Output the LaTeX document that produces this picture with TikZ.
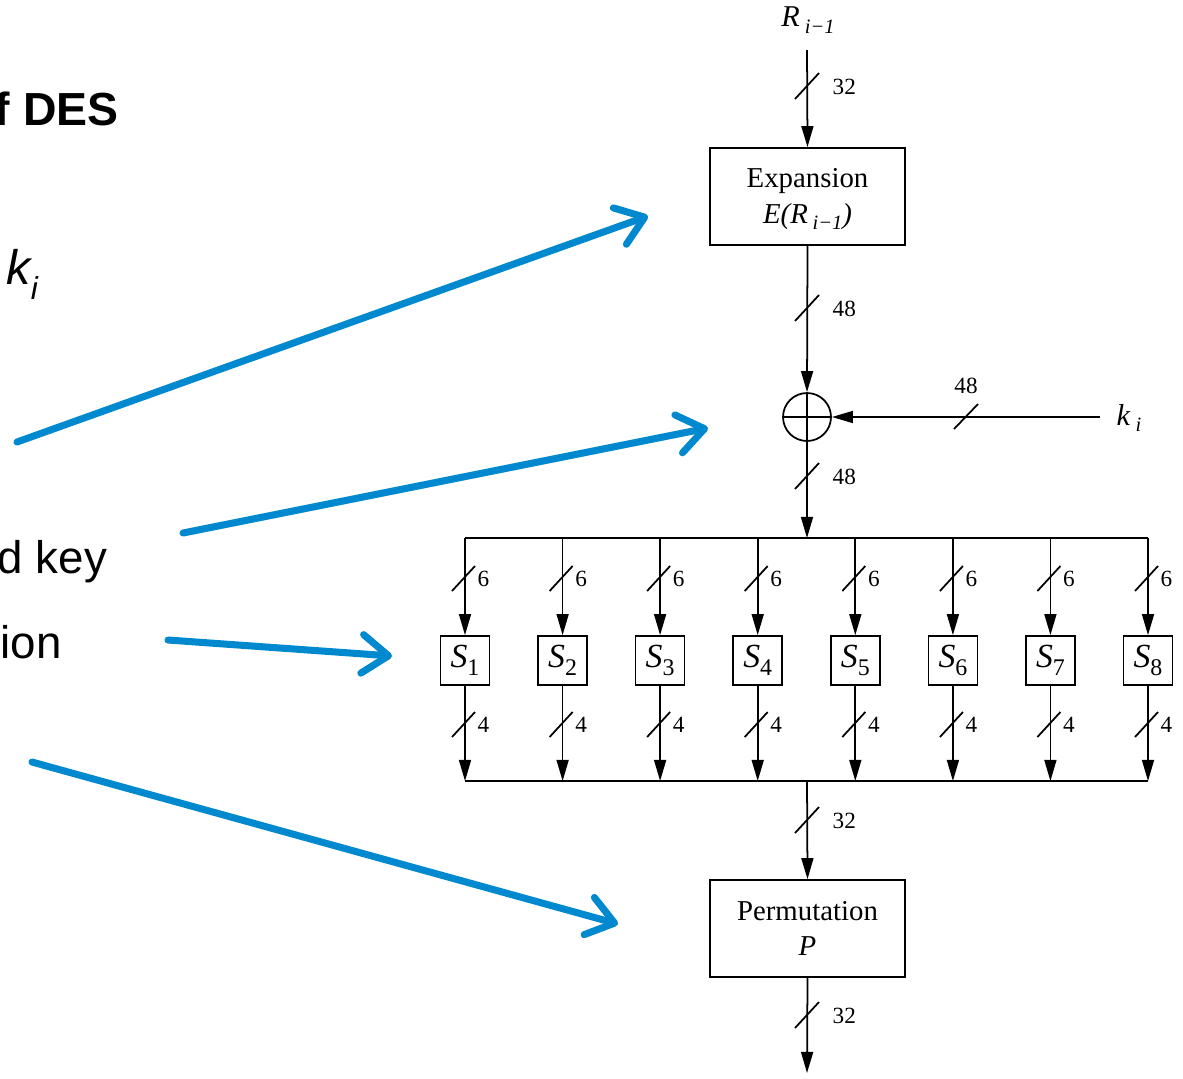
\documentclass[tikz,border=0pt]{standalone}
\usepackage{fontspec}
\setmainfont{Liberation Serif}
\newfontfamily\arialfont{Liberation Sans}
\usetikzlibrary{arrows.meta}
\definecolor{desblue}{RGB}{0,137,207}
\newcommand{\subtxt}[1]{\raisebox{-0.45ex}{\fontsize{5.8}{6}\selectfont\itshape #1}}
\begin{document}
\begin{tikzpicture}[x=0.1mm,y=-0.1mm,
  wire/.style={line width=0.5pt,draw=black},
  flow/.style={wire,-{Triangle[length=6pt,width=3.4pt]}},
  bigbox/.style={draw,line width=0.5pt,minimum width=19.5mm,minimum height=9.7mm,inner sep=0pt,align=center,font=\fontsize{8.2}{10}\selectfont},
  sbox/.style={draw,line width=0.5pt,minimum width=4.9mm,minimum height=4.9mm,inner sep=0pt,font=\fontsize{9.6}{9}\selectfont},
  num/.style={font=\fontsize{6.6}{7}\selectfont,inner sep=0pt,anchor=west},
  lbl/.style={font=\fontsize{8.6}{9}\selectfont,inner sep=0pt},
  pointer/.style={draw=desblue,line width=2pt,line cap=round,-{Straight Barb[length=7.5pt,width=11pt,line cap=round,line join=round]}},
  slide/.style={font=\arialfont\fontsize{13}{15}\selectfont,inner sep=0pt,anchor=base west},
  xorc/.style={draw,circle,line width=0.5pt,minimum size=4.8mm,inner sep=0pt},
]
\useasboundingbox (0,0) rectangle (1183,1078);
\clip (0,0) rectangle (1183,1078);

% slide texts (cut at the left edge)
\node[slide,font=\arialfont\bfseries\fontsize{13.2}{15}\selectfont] (title) at (-6,125) {f DES};
\node[slide,font=\arialfont\itshape\fontsize{13.8}{15}\selectfont] (kitxt) at (6,284) {k\raisebox{-4.3pt}{\fontsize{9}{9}\selectfont i}};
\node[slide] (keytxt) at (-3,573) {d key};
\node[slide] (iontxt) at (0,658) {ion};

% diagram nodes
\node[lbl] (rin) at (808,20) {\textit{R}\,\subtxt{i−1}};
\node[bigbox] (exp) at (807.5,196.5) {};
\node[font=\fontsize{8.2}{10}\selectfont,align=center,inner sep=0pt] (exptxt) at (807.5,199) {Expansion\\\textit{E(R}\,\subtxt{i−1}\textit{)}};
\node[xorc] (xor) at (807,417) {};
\node[lbl,anchor=west] (ki) at (1116,418) {\textit{k}\,\subtxt{i}};
\node[bigbox] (perm) at (807.5,928.5) {Permutation\\\textit{P}};

\coordinate (rtop) at (807,50);
\coordinate (kstart) at (1100,417);
\coordinate (btop) at (807,538);
\coordinate (bbot) at (807,781);
\coordinate (out) at (807,1073);

% top path
\draw[flow] (rtop) -- (exp.north);
\draw[flow] (exp.south) -- (xor.north);
\draw[wire] (xor.north) -- (xor.south) (xor.west) -- (xor.east);
\draw[flow] (kstart) -- (xor.east);
\draw[flow] (xor.south) -- (btop);

% bit-width slashes and labels
\foreach \y/\t in {86/32, 308/48, 476/48, 820/32, 1015/32}{
  \draw[wire] (795,\y+13) -- (819,\y-13);
  \node[num] at (832,\y+1) {\t};
}
\draw[wire] (954,429) -- (978,404);
\node[num,anchor=center] (k48) at (966,386) {48};

% buses
\draw[wire] (465,538) -- (1148,538);
\draw[wire] (465,781) -- (1148,781);

% S-boxes
\foreach \i/\x in {1/465,2/562.6,3/660.1,4/757.7,5/855.3,6/952.9,7/1050.4,8/1148}{
  \node[sbox] (s\i) at (\x,660.5) {\textit{S}\raisebox{-0.5ex}{\fontsize{6.8}{7}\selectfont\i}};
  \coordinate (ti\i) at (\x,538);
  \coordinate (to\i) at (\x,781);
  \draw[flow] (ti\i) -- (s\i.north);
  \draw[flow] (s\i.south) -- (to\i);
  \draw[wire] (\x-13,591) -- (\x+10,566);
  \node[num] at (\x+12,579) {6};
  \draw[wire] (\x-13,737) -- (\x+10,712);
  \node[num] at (\x+12,725) {4};
}

% bottom path
\draw[flow] (bbot) -- (perm.north);
\draw[flow] (perm.south) -- (out);

% blue pointers
\coordinate (p1a) at (17,442);  \coordinate (p1b) at (648,216);
\coordinate (p2a) at (183,533); \coordinate (p2b) at (708,428);
\coordinate (p3a) at (168,640); \coordinate (p3b) at (392,656);
\coordinate (p4a) at (32,762);  \coordinate (p4b) at (618,924);
\draw[pointer] (p1a) -- (p1b);
\draw[pointer] (p2a) -- (p2b);
\draw[pointer] (p3a) -- (p3b);
\draw[pointer] (p4a) -- (p4b);
\end{tikzpicture}
\end{document}
